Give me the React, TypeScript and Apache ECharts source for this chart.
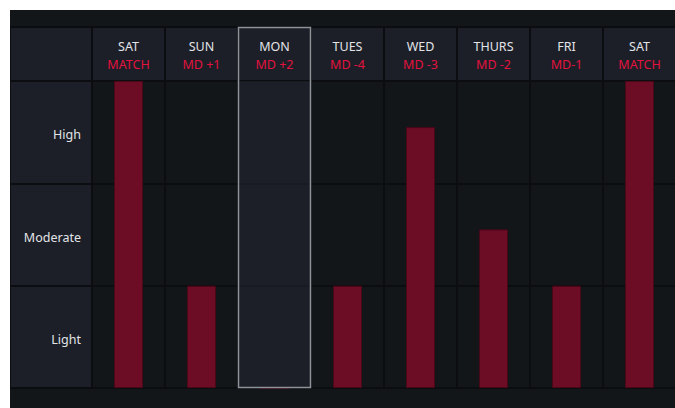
import React, { useEffect, useRef } from "react";
import * as echarts from "echarts";

const days = ["SAT", "SUN", "MON", "TUES", "WED", "THURS", "FRI", "SAT"];
const subLabels = ["MATCH", "MD +1", "MD +2", "MD -4", "MD -3", "MD -2", "MD-1", "MATCH"];
const loads = [3, 1, 0, 1, 2.55, 1.55, 1, 3];
const levels = ["Light", "Moderate", "High"];
const highlightIndex = 2;

const W = 666;
const H = 398;
const LEFT = 82;
const HEAD_TOP = 17;
const HEAD_H = 54;
const BODY_TOP = HEAD_TOP + HEAD_H;
const BODY_H = 307;
const COLS_W = 584;

const BG = "#131619";
const CELL = "#1c1f27";
const BODY = "#131619";
const LINE = "#0b0d10";
const FONT = "'Noto Sans', sans-serif";

export default function App() {
  const ref = useRef<HTMLDivElement>(null);
  useEffect(() => {
    if (!ref.current) return;
    const chart = echarts.init(ref.current, null, { renderer: "svg" });
    const colW = COLS_W / days.length;
    const cats = days.map((d, i) => `${i}`);
    chart.setOption({
      animation: false,
      backgroundColor: BG,
      grid: [
        { left: LEFT, top: BODY_TOP, width: COLS_W, height: BODY_H, show: true, backgroundColor: BODY, borderColor: LINE, borderWidth: 2 },
        { left: LEFT, top: HEAD_TOP, width: COLS_W, height: HEAD_H, show: true, backgroundColor: CELL, borderColor: LINE, borderWidth: 2 },
        { left: 0, top: BODY_TOP, width: LEFT, height: BODY_H, show: true, backgroundColor: CELL, borderColor: LINE, borderWidth: 2 },
      ],
      xAxis: [
        {
          type: "category",
          gridIndex: 0,
          data: cats,
          axisLine: { show: false },
          axisTick: { show: false },
          axisLabel: { show: false },
          splitLine: { show: true, lineStyle: { color: LINE, width: 2 } },
        },
        {
          type: "category",
          gridIndex: 1,
          data: cats,
          position: "bottom",
          axisLine: { show: false },
          axisTick: { show: false },
          splitLine: { show: true, lineStyle: { color: LINE, width: 2 } },
          axisLabel: {
            inside: true,
            margin: 8,
            interval: 0,
            formatter: (v: string) => {
              const i = Number(v);
              return `{a|${days[i]}}\n{b|${subLabels[i]}}`;
            },
            rich: {
              a: { color: "#e2e4e7", fontSize: 12.5, fontFamily: FONT, lineHeight: 18, align: "center" },
              b: { color: "#e3123f", fontSize: 12.5, fontFamily: FONT, lineHeight: 18, align: "center" },
            },
          },
        },
        { type: "value", gridIndex: 2, show: false, min: 0, max: 1 },
      ],
      yAxis: [
        {
          type: "value",
          gridIndex: 0,
          min: 0,
          max: 3,
          interval: 1,
          axisLine: { show: false },
          axisTick: { show: false },
          axisLabel: { show: false },
          splitLine: { show: true, lineStyle: { color: LINE, width: 2 } },
        },
        { type: "value", gridIndex: 1, show: false, min: 0, max: 1 },
        {
          type: "category",
          gridIndex: 2,
          data: levels,
          position: "right",
          axisLine: { show: false },
          axisTick: { show: false },
          splitLine: { show: true, lineStyle: { color: LINE, width: 2 } },
          axisLabel: {
            inside: true,
            margin: 11,
            formatter: (v: string) => `{t|${v}}`,
            rich: { t: { color: "#e2e4e7", fontSize: 12.5, fontFamily: FONT, padding: [5, 0, 0, 0] } },
          },
        },
      ],
      graphic: [
        { type: "rect", z: 0, shape: { x: 0, y: HEAD_TOP, width: LEFT, height: HEAD_H }, style: { fill: CELL, stroke: LINE, lineWidth: 2 } },
        {
          type: "rect",
          z: 5,
          silent: true,
          shape: { x: LEFT + colW * highlightIndex, y: BODY_TOP, width: colW, height: BODY_H },
          style: { fill: "rgba(37,40,53,0.55)" },
        },
        {
          type: "rect",
          z: 6,
          silent: true,
          shape: { x: LEFT + colW * highlightIndex + 0.5, y: HEAD_TOP + 0.5, width: colW - 1, height: HEAD_H + BODY_H - 1 },
          style: { fill: "none", stroke: "#8e9399", lineWidth: 1.5 },
        },
      ],
      series: [
        {
          type: "bar",
          xAxisIndex: 0,
          yAxisIndex: 0,
          data: loads,
          barWidth: 29,
          z: 3,
          itemStyle: { color: "#6c0c25", borderColor: "#4a0718", borderWidth: 1 },
        },
      ],
    });
    return () => chart.dispose();
  }, []);
  return <div ref={ref} style={{ position: "absolute", left: 10, top: 10, width: W, height: H }} />;
}
